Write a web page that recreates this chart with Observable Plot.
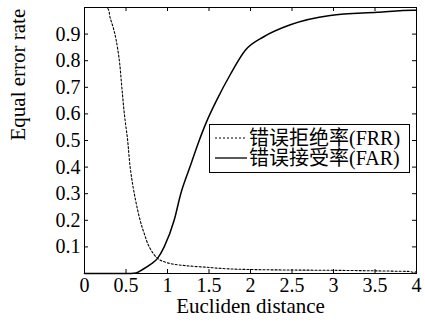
<!DOCTYPE html>
<html><head><meta charset="utf-8">
<script src="https://cdn.jsdelivr.net/npm/d3@7"></script>
<script src="https://cdn.jsdelivr.net/npm/@observablehq/plot@0.6"></script>
<style>
body{margin:0;background:#fff;}
#wrap{position:relative;width:425px;height:324px;font-family:'Liberation Serif','DejaVu Serif',serif;}
#wrap svg text{font-family:'Liberation Serif','DejaVu Serif',serif;}
#legend{position:absolute;left:209px;top:124px;width:199px;height:47px;border:1px solid #000;background:#fff;}
.row{position:absolute;left:0;height:20px;display:flex;align-items:center;font-size:20px;line-height:20px;color:#000;font-family:'Liberation Serif','Noto Sans CJK SC','DejaVu Serif',serif;white-space:nowrap;}
.row svg{margin-left:5px;margin-right:2px;}
</style></head>
<body><div id="wrap"></div>
<script>
// FRR (dotted)
const frrX = [0, 0.27, 0.31, 0.35, 0.38, 0.42, 0.45, 0.48, 0.52, 0.55, 0.60, 0.67, 0.72, 0.78, 0.88, 1.0, 1.2, 1.45, 1.7, 2.0, 2.5, 3.0, 3.5, 3.9, 4.0, 4.0];
const frrY = [1, 1, 0.96, 0.92, 0.88, 0.80, 0.70, 0.60, 0.50, 0.40, 0.30, 0.20, 0.15, 0.10, 0.057, 0.04, 0.03, 0.024, 0.018, 0.015, 0.013, 0.012, 0.010, 0.008, 0.008, 1];
// FAR (solid)
const farX = [0, 0.5, 0.62, 0.70, 0.80, 0.88, 0.96, 1.08, 1.16, 1.27, 1.37, 1.47, 1.59, 1.76, 1.94, 2.16, 2.48, 2.96, 3.53, 3.96, 4.0];
const farY = [0, 0, 0.002, 0.015, 0.035, 0.057, 0.10, 0.20, 0.30, 0.40, 0.49, 0.57, 0.65, 0.75, 0.84, 0.89, 0.935, 0.97, 0.982, 0.99, 0.99];
const xTicks = [0, 0.5, 1, 1.5, 2, 2.5, 3, 3.5, 4];
const yTicks = [0.1, 0.2, 0.3, 0.4, 0.5, 0.6, 0.7, 0.8, 0.9];
const xTitle = "Eucliden distance";
const yTitle = "Equal error rate";
const legendLabels = ["错误拒绝率(FRR)", "错误接受率(FAR)"];

const frr = frrX.map((x, i) => ({x, y: frrY[i]}));
const far = farX.map((x, i) => ({x, y: farY[i]}));

const W = 425, H = 324, mL = 84, mR = 9, mT = 7, mB = 51;
const pw = W - mL - mR, ph = H - mT - mB;
const tl = 4;
const fmt = d => String(d);
const serif = "'Liberation Serif','DejaVu Serif',serif";

const chart = Plot.plot({
  width: W, height: H,
  marginLeft: mL, marginRight: mR, marginTop: mT, marginBottom: mB,
  style: `font-family:${serif};font-size:20px;color:#000;background:#fff;`,
  x: {domain: [0, 4]},
  y: {domain: [0, 1]},
  marks: [
    Plot.line(frr, {x: "x", y: "y", stroke: "#000", strokeWidth: 1.1, strokeDasharray: "2,2", curve: "catmull-rom", clip: true}),
    Plot.line(far, {x: "x", y: "y", stroke: "#000", strokeWidth: 1.5, curve: "monotone-x"}),
    Plot.ruleX(xTicks, {x: d => d, stroke: "#000", insetTop: ph - tl}),
    Plot.ruleX(xTicks, {x: d => d, stroke: "#000", insetBottom: ph - tl}),
    Plot.ruleY(yTicks, {y: d => d, stroke: "#000", insetRight: pw - tl}),
    Plot.ruleY(yTicks, {y: d => d, stroke: "#000", insetLeft: pw - tl}),
    Plot.axisX(xTicks, {tickSize: 0, tickPadding: 4, label: null, fontSize: 20, tickFormat: fmt, fontFamily: serif}),
    Plot.axisY(yTicks, {tickSize: 0, tickPadding: 4, label: null, fontSize: 20, tickFormat: fmt, fontFamily: serif}),
    Plot.frame({stroke: "#000", strokeWidth: 1}),
    Plot.text([xTitle], {frameAnchor: "bottom", dy: 39, fontSize: 21, fill: "#000", fontFamily: serif}),
    Plot.text([yTitle], {frameAnchor: "left", rotate: -90, dx: -66, fontSize: 21, fill: "#000", fontFamily: serif})
  ]
});
const wrap = document.getElementById("wrap");
wrap.appendChild(chart);

const lg = document.createElement("div");
lg.id = "legend";
legendLabels.forEach((lab, i) => {
  const r = document.createElement("div");
  r.className = "row";
  r.style.top = (i === 0 ? 3 : 23) + "px";
  const dash = i === 0 ? 'stroke-dasharray="2,2" stroke-width="1.1"' : 'stroke-width="1.3"';
  r.innerHTML = `<svg width="32" height="10"><line x1="0" x2="32" y1="5" y2="5" stroke="#000" ${dash}/></svg><span>${lab}</span>`;
  lg.appendChild(r);
});
wrap.appendChild(lg);
</script></body></html>
